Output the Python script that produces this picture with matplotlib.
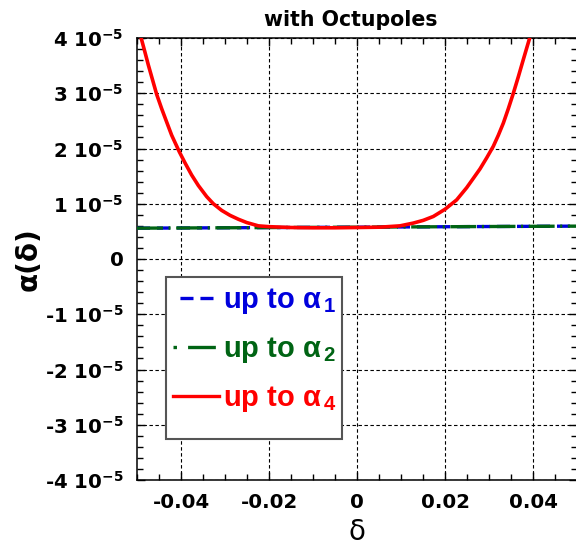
import matplotlib
matplotlib.use("Agg")
import matplotlib.pyplot as plt
from matplotlib.patches import Rectangle
from matplotlib.lines import Line2D

# --- dados ---
delta_lin = [-0.05, -0.025, 0.0, 0.025, 0.05]
alpha_up_to_1 = [5.58e-6, 5.67e-6, 5.76e-6, 5.86e-6, 5.95e-6]
alpha_up_to_2 = [5.58e-6, 5.67e-6, 5.76e-6, 5.86e-6, 5.95e-6]

delta_oct = [-0.05000, -0.04909, -0.04818, -0.04742, -0.04667, -0.04553, -0.04439,
             -0.04326, -0.04212, -0.04038, -0.03909, -0.03758, -0.03606, -0.03417,
             -0.03265, -0.03076, -0.02886, -0.02697, -0.02508, -0.02243, -0.02000,
             -0.01500, -0.01000, -0.00500, 0.00000, 0.00523, 0.00977, 0.01280,
             0.01508, 0.01735, 0.02000, 0.02265, 0.02492, 0.02644, 0.02795,
             0.02947, 0.03098, 0.03212, 0.03326, 0.03439, 0.03553, 0.03667,
             0.03780, 0.03917, 0.04000]
alpha_up_to_4 = [4.30e-5, 4.01e-5, 3.74e-5, 3.51e-5, 3.30e-5, 2.98e-5, 2.72e-5,
                 2.48e-5, 2.24e-5, 1.94e-5, 1.74e-5, 1.52e-5, 1.33e-5, 1.13e-5,
                 1.00e-5, 0.88e-5, 0.79e-5, 0.72e-5, 0.66e-5, 0.60e-5, 0.585e-5,
                 0.57e-5, 0.565e-5, 0.565e-5, 0.57e-5, 0.576e-5, 0.60e-5, 0.65e-5,
                 0.70e-5, 0.77e-5, 0.90e-5, 1.07e-5, 1.29e-5, 1.46e-5, 1.63e-5,
                 1.83e-5, 2.04e-5, 2.24e-5, 2.46e-5, 2.72e-5, 3.00e-5, 3.30e-5,
                 3.61e-5, 3.98e-5, 4.22e-5]

x_ticks = [-0.04, -0.02, 0.0, 0.02, 0.04]
x_tick_labels = ["-0.04", "-0.02", "0", "0.02", "0.04"]
y_ticks = [4e-5, 3e-5, 2e-5, 1e-5, 0, -1e-5, -2e-5, -3e-5, -4e-5]
y_tick_labels = ["4 10$^{-5}$", "3 10$^{-5}$", "2 10$^{-5}$", "1 10$^{-5}$", "0",
                 "-1 10$^{-5}$", "-2 10$^{-5}$", "-3 10$^{-5}$", "-4 10$^{-5}$"]

series_labels = ["up to \u03b1$_{\\,1}$", "up to \u03b1$_{\\,2}$", "up to \u03b1$_{\\,4}$"]
blue = "#0000dd"
green = "#006414"
red = "#ff0000"

plt.rcParams["font.family"] = ["DejaVu Sans"]
plt.rcParams["mathtext.default"] = "regular"
plt.rcParams["lines.scale_dashes"] = False

fig = plt.figure(figsize=(5.76, 5.45), dpi=100)
ax = fig.add_axes([137 / 576, 65 / 545, 440 / 576, 442 / 545])

# curvas (a vermelha por cima)
ax.plot(delta_lin, alpha_up_to_1, color=blue, lw=2.4, ls=(0, (9.4, 5.0)),
        dash_capstyle="butt", zorder=3)
ax.plot(delta_lin, alpha_up_to_2, color=green, lw=2.4, ls=(0, (18.7, 4.0, 1.5, 4.0)),
        dash_capstyle="butt", zorder=3)
ax.plot(delta_oct, alpha_up_to_4, color=red, lw=2.6, zorder=4, solid_capstyle="butt")

ax.set_xlim(-0.05, 0.05)
ax.set_ylim(-4e-5, 4e-5)

ax.set_xticks(x_ticks)
ax.set_xticklabels(x_tick_labels)
ax.set_yticks(y_ticks)
ax.set_yticklabels(y_tick_labels)
ax.set_xticks([v / 1000 for v in range(-50, 51, 5)], minor=True)
ax.set_yticks([v * 1e-6 for v in range(-40, 41, 2)], minor=True)

ax.tick_params(which="both", direction="in", top=True, right=True, width=1.0)
ax.tick_params(which="major", length=6, pad=9.5, labelsize=14.2)
ax.tick_params(which="minor", length=4)
for lab in ax.get_xticklabels() + ax.get_yticklabels():
    lab.set_fontweight("bold")

ax.grid(True, which="major", color="black", lw=0.8, ls=(0, (2.5, 1.8)))
for s in ax.spines.values():
    s.set_linewidth(1.1)

ax.set_title("with Octupoles", fontsize=14.8, fontweight="bold", pad=9, x=0.485)
ax.set_xlabel("\u03b4", fontsize=20, labelpad=4)
ax.set_ylabel("\u03b1(\u03b4)", fontsize=20, fontweight="bold", labelpad=2)

# caixa da legenda
ax.add_patch(Rectangle((0.066, 0.093), 0.40, 0.366, transform=ax.transAxes,
                       facecolor="white", edgecolor="#555555", lw=1.5, zorder=5))
handles = [Line2D([], [], color=blue, lw=2.4, ls=(9.4, (9.4, 5.0))),
           Line2D([], [], color=green, lw=2.4, ls=(0, (2.5, 8.0, 20.0, 4.0))),
           Line2D([], [], color=red, lw=2.4)]
leg = ax.legend(handles, series_labels, loc="upper left", bbox_to_anchor=(0.063, 0.459),
                frameon=False, handlelength=1.55, handletextpad=0.15, labelspacing=0.66,
                borderpad=0.3, borderaxespad=0,
                prop={"family": ["Liberation Sans", "DejaVu Sans"],
                      "weight": "bold", "size": 21})
leg.set_zorder(6)
for txt, c in zip(leg.get_texts(), [blue, green, red]):
    txt.set_color(c)

fig.savefig("out.png", dpi=100)
